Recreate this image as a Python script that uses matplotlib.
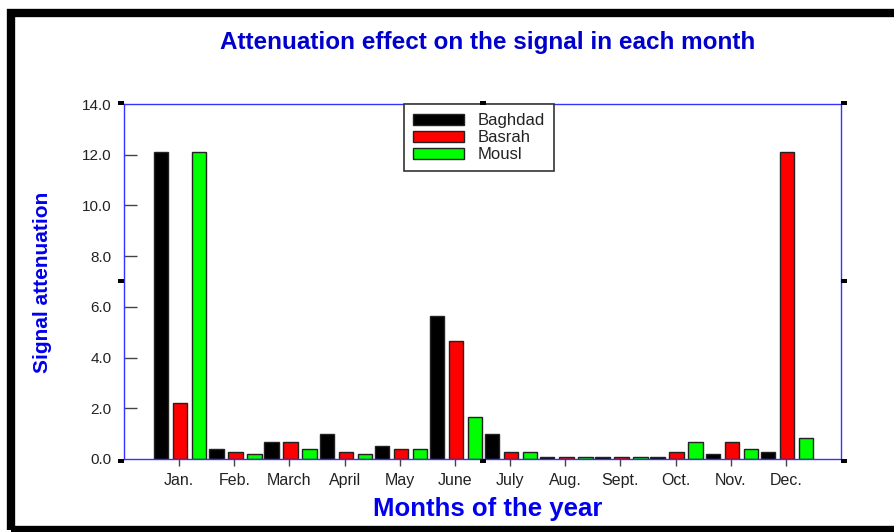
import matplotlib
matplotlib.use("Agg")
import matplotlib.pyplot as plt
from matplotlib import font_manager
import numpy as np
from matplotlib.patches import Rectangle

months = ["Jan.", "Feb.", "March", "April", "May", "June", "July",
          "Aug.", "Sept.", "Oct.", "Nov.", "Dec."]
baghdad = [12.1, 0.38, 0.68, 0.97, 0.50, 5.64, 0.97, 0.08, 0.08, 0.08, 0.18, 0.26]
basrah  = [2.2, 0.26, 0.68, 0.26, 0.38, 4.65, 0.26, 0.08, 0.08, 0.26, 0.66, 12.1]
mousl   = [12.1, 0.18, 0.38, 0.18, 0.38, 1.65, 0.26, 0.08, 0.08, 0.66, 0.38, 0.84]
series_names = ["Baghdad", "Basrah", "Mousl"]
yticks = [0.0, 2.0, 4.0, 6.0, 8.0, 10.0, 12.0, 14.0]

W, H = 895, 532
fig = plt.figure(figsize=(W / 100, H / 100), dpi=100)
fig.patch.set_facecolor("white")

L, R, T, B = 124, 841, 104, 459
ax = fig.add_axes([L / W, 1 - B / H, (R - L) / W, (B - T) / H])

x = np.arange(1, len(months) + 1)
w = 0.26
off = 0.345
cols = ["#000000", "#FF0000", "#00FF00"]
for vals, dx, c, n in zip([baghdad, basrah, mousl], [-off, 0, off], cols, series_names):
    ax.bar(x + dx + 0.02, vals, width=w, color=c, edgecolor="#222222", linewidth=1.0, label=n)

ax.set_xlim(0, 13)
ax.set_ylim(0, 14)
for s in ax.spines.values():
    s.set_color("#3333FF")
    s.set_linewidth(1.0)

ax.set_xticks(x)
ax.set_xticklabels(months, fontsize=11.5, family="Liberation Sans", color="#222222")
ax.tick_params(axis="x", direction="out", length=5, width=1, color="#444444", pad=5)
ax.set_yticks(yticks)
ax.set_yticklabels([f"{v:.1f}" for v in yticks], fontsize=11, family="Liberation Sans", color="#222222")
ax.tick_params(axis="y", direction="in", length=9, width=1, color="#444444", pad=9)
yt = ax.yaxis.get_major_ticks()
yt[0].tick1line.set_visible(False)
yt[-1].tick1line.set_visible(False)

leg = ax.legend(loc="upper center", bbox_to_anchor=(0.495, 1.0), fancybox=False,
                edgecolor="#333333", framealpha=1,
                prop={"family": "Liberation Sans", "size": 12},
                handlelength=3.1, handleheight=0.7, borderpad=0.55,
                labelspacing=0.12, borderaxespad=0.0, handletextpad=0.8)
leg.get_frame().set_linewidth(1.2)
for t in leg.get_texts():
    t.set_color("#222222")

fig.text(488 / W, 1 - 43 / H, "Attenuation effect on the signal in each month",
         ha="center", va="center", fontsize=17.5, fontweight="bold",
         family="Liberation Sans", color="#0000CC")
fig.text(488 / W, 1 - 509 / H, "Months of the year", ha="center", va="center",
         fontsize=18.5, fontweight="bold", family="Liberation Sans", color="#0000EE")

names = {f.name for f in font_manager.fontManager.ttflist}
if "Liberation Sans Narrow" in names:
    yl_family, yl_size = "Liberation Sans Narrow", 18
else:
    yl_family, yl_size = "Liberation Sans", 15
fig.text(43 / W, 1 - 282 / H, "Signal attenuation", ha="center", va="center",
         rotation=90, fontsize=yl_size, fontweight="bold",
         family=yl_family, color="#0000EE")

def handle(px, py, w=6, h=4):
    fig.add_artist(Rectangle((px / W, 1 - (py + h) / H), w / W, h / H,
                             transform=fig.transFigure, color="black", lw=0))

handle(118, 101)
handle(118, 279)
handle(118, 459)
handle(480, 101)
handle(480, 459)
handle(841, 101)
handle(841, 279)
handle(841, 459)

fig.add_artist(Rectangle((11 / W, 1 - 530 / H), 900 / W, (530 - 13) / H,
                         transform=fig.transFigure, fill=False,
                         edgecolor="black", lw=6, clip_on=False))

fig.savefig("out.png", dpi=100)
